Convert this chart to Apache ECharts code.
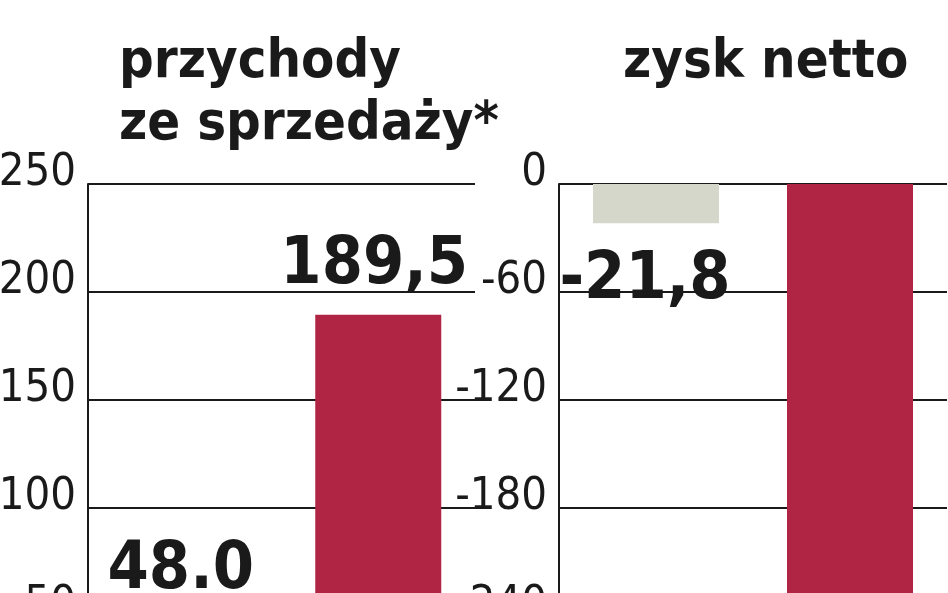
<!DOCTYPE html>
<html>
<head>
<meta charset="utf-8">
<script src="https://cdn.jsdelivr.net/npm/echarts@6/dist/echarts.min.js"></script>
<style>html,body{margin:0;padding:0;background:#fff}#c{width:948px;height:593px}</style>
</head>
<body>
<div id="c"></div>
<script>
const categories = ["poprzedni", "bieżący"];
const revenueValues = [48.0, 189.5];
const revenueLabels = ["48.0", "189,5"];
const profitValues = [-21.8, -265];
const profitLabels = ["-21,8", ""];
const revenueTicks = [0, 50, 100, 150, 200, 250];
const profitTicks = [-300, -240, -180, -120, -60, 0];
const titles = ["przychody\nze sprzedaży*", "zysk netto"];

const FONT = '"DejaVu Sans Condensed", "Liberation Sans Narrow", sans-serif';
const INK = '#1a1a1a';
const RED = '#b02444';
const GREY = '#d6d7cb';

const chart = echarts.init(document.getElementById('c'));

function yAxis(idx, ticks) {
  return {
    type: 'value', gridIndex: idx,
    min: ticks[0], max: ticks[ticks.length - 1], interval: ticks[1] - ticks[0],
    axisLine: { show: true, lineStyle: { color: INK, width: 2 } },
    axisTick: { show: false },
    splitLine: { show: true, lineStyle: { color: INK, width: 2 } },
    axisLabel: {
      fontFamily: FONT, fontSize: 45, color: INK, margin: 12,
      verticalAlign: 'bottom', lineHeight: 21
    }
  };
}
function xAxis(idx) {
  return {
    type: 'category', gridIndex: idx, data: categories,
    axisLine: { show: false }, axisTick: { show: false }, axisLabel: { show: false },
    splitLine: { show: false }
  };
}
const labelStyle = { fontFamily: FONT, fontWeight: 'bold', fontSize: 66, color: INK, lineHeight: 66 };

chart.setOption({
  animation: false,
  title: [
    { text: titles[0], left: 114, top: 27,
      textStyle: { fontFamily: FONT, fontWeight: 'bold', fontSize: 54, lineHeight: 62, color: INK } },
    { text: titles[1], left: 618, top: 27,
      textStyle: { fontFamily: FONT, fontWeight: 'bold', fontSize: 54, lineHeight: 62, color: INK } }
  ],
  grid: [
    { left: 88, top: 184, width: 387, height: 540, outerBoundsMode: 'none', containLabel: false },
    { left: 559, top: 184, width: 388, height: 540, outerBoundsMode: 'none', containLabel: false }
  ],
  xAxis: [xAxis(0), xAxis(1)],
  yAxis: [yAxis(0, revenueTicks), yAxis(1, profitTicks)],
  series: [
    {
      type: 'bar', xAxisIndex: 0, yAxisIndex: 0, barWidth: 126,
      data: revenueValues.map((v, i) => ({ value: v, itemStyle: { color: i === 0 ? GREY : RED } })),
      label: { show: true, position: 'top', distance: 16, offset: [-4, 0],
        formatter: p => revenueLabels[p.dataIndex], ...labelStyle }
    },
    {
      type: 'bar', xAxisIndex: 1, yAxisIndex: 1, barWidth: 126,
      data: profitValues.map((v, i) => ({ value: v, itemStyle: { color: i === 0 ? GREY : RED } })),
      label: { show: true, position: 'bottom', distance: 25, offset: [-11, 0],
        formatter: p => profitLabels[p.dataIndex], ...labelStyle }
    }
  ]
});
</script>
</body>
</html>
